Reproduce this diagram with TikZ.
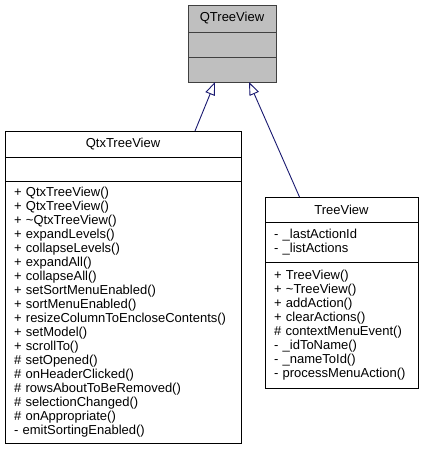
\documentclass[tikz,border=0pt]{standalone}
\usepackage{fontspec}
\setmainfont{Liberation Sans}
\usetikzlibrary{arrows.meta, positioning}
\definecolor{doxyblue}{RGB}{25, 25, 112}
\definecolor{doxygray}{RGB}{191, 191, 191}

\begin{document}
\begin{tikzpicture}[
    x=1pt, y=-1pt,
    font=\fontsize{13}{14}\selectfont,
    part/.style={rectangle, draw, line width=0.9pt, outer sep=0pt, inner sep=0pt},
    title/.style={part, align=center},
    members/.style={part, align=left, inner xsep=9pt},
    inherit/.style={-{Triangle[open, length=13pt, width=10pt]}, doxyblue, line width=0.9pt}
]
    \useasboundingbox (0,0) rectangle (424,463);

    % Base class
    \node[title, draw=black!75, fill=doxygray, minimum width=88pt, minimum height=27pt, anchor=north west] (qtreeview) at (188,5) {QTreeView};
    \node[part, draw=black!75, fill=doxygray, minimum width=88pt, minimum height=25pt, below=0pt of qtreeview] (qtreeview-attr) {};
    \node[part, draw=black!75, fill=doxygray, minimum width=88pt, minimum height=25pt, below=0pt of qtreeview-attr] (qtreeview-meth) {};

    % QtxTreeView
    \node[title, minimum width=236pt, minimum height=26pt, anchor=north west] (qtx) at (5,131) {QtxTreeView};
    \node[part, minimum width=236pt, minimum height=24pt, below=0pt of qtx] (qtx-attr) {};
    \node[members, text width=218pt, minimum height=262pt, below=0pt of qtx-attr] (qtx-meth) {%
        + QtxTreeView()\\
        + QtxTreeView()\\
        + \textasciitilde QtxTreeView()\\
        + expandLevels()\\
        + collapseLevels()\\
        + expandAll()\\
        + collapseAll()\\
        + setSortMenuEnabled()\\
        + sortMenuEnabled()\\
        + resizeColumnToEncloseContents()\\
        + setModel()\\
        + scrollTo()\\
        \# setOpened()\\
        \# onHeaderClicked()\\
        \# rowsAboutToBeRemoved()\\
        \# selectionChanged()\\
        \# onAppropriate()\\
        - emitSortingEnabled()};

    % TreeView
    \node[title, minimum width=153pt, minimum height=25pt, anchor=north west] (treeview) at (265,197) {TreeView};
    \node[members, text width=135pt, minimum height=40pt, below=0pt of treeview] (treeview-attr) {%
        - \_lastActionId\\
        - \_listActions};
    \node[members, text width=135pt, minimum height=126pt, below=0pt of treeview-attr] (treeview-meth) {%
        + TreeView()\\
        + \textasciitilde TreeView()\\
        + addAction()\\
        + clearActions()\\
        \# contextMenuEvent()\\
        - \_idToName()\\
        - \_nameToId()\\
        - processMenuAction()};

    % Inheritance
    \draw[inherit] ([xshift=72pt]qtx.north) -- ([xshift=-17pt]qtreeview-meth.south);
    \draw[inherit] ([xshift=-42pt]treeview.north) -- ([xshift=17pt]qtreeview-meth.south);
\end{tikzpicture}
\end{document}
